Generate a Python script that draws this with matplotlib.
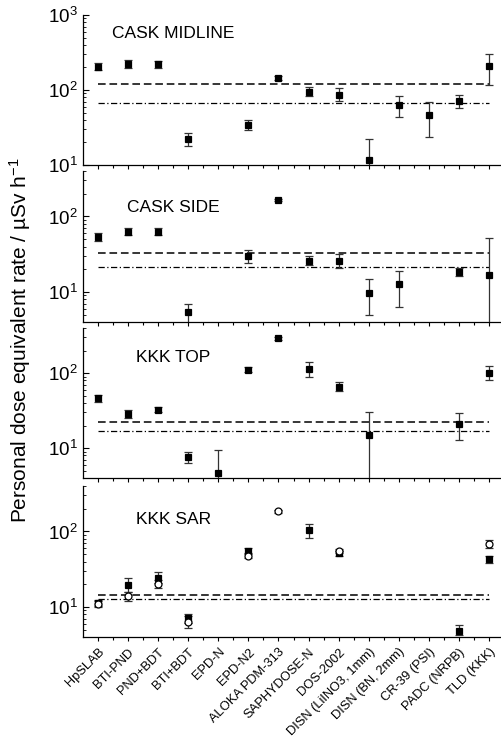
import numpy as np
import matplotlib
matplotlib.use("Agg")
import matplotlib.pyplot as plt

plt.rcParams["font.family"] = ["Liberation Sans", "DejaVu Sans"]
plt.rcParams["mathtext.default"] = "regular"

nan = np.nan

categories = ["HpSLAB", "BTI-PND", "PND+BDT", "BTI+BDT", "EPD-N", "EPD-N2",
              "ALOKA PDM-313", "SAPHYDOSE-N", "DOS-2002", "DISN (LiINO3, 1mm)",
              "DISN (BN, 2mm)", "CR-39 (PSI)", "PADC (NRPB)", "TLD (KKK)"]

# CASK MIDLINE
mid_val = [205, 220, 220, 22.5, nan, 34, 145, 95, 87, 11.8, 63, 47, 72, 210]
mid_lo = [185, 195, 198, 18, nan, 29, 137, 84, 72, 5, 44, 23.5, 57, 115]
mid_hi = [230, 248, 245, 27, nan, 40, 155, 110, 105, 22, 84, 70, 85, 300]
mid_ref = [121, 67]

# CASK SIDE
side_val = [53, 63, 63, 5.4, nan, 30, 165, 26, 26, 9.8, 12.7, nan, 18.5, 17]
side_lo = [47, 57, 57, 3, nan, 24, 158, 22.5, 21, 4.9, 6.3, nan, 16.5, 3]
side_hi = [60, 70, 70, 7, nan, 36, 172, 30, 32, 14.8, 19, nan, 20.5, 52]
side_ref = [33, 21.5]

# KKK TOP
top_val = [46, 28.5, 32.6, 7.6, 4.66, 111, 290, 115, 66, 15, nan, nan, 21, 100]
top_lo = [41, 25.5, 30, 6.3, 3, 104, 280, 90, 58, 3, nan, nan, 12.9, 81]
top_hi = [51, 32, 35.5, 8.9, 9.5, 119, 300, 141, 76, 30, nan, nan, 29, 123]
top_ref = [22.5, 17]

# KKK SAR (filled squares and open circles)
sar_val = [11.4, 19.5, 24.4, 7.1, nan, 55, nan, 105, 51.5, nan, nan, nan, 4.8, 43]
sar_lo = [10.4, 16, 21, 6.2, nan, 50, nan, 81, 48, nan, nan, nan, 4.2, 38]
sar_hi = [12.5, 24.4, 28.7, 8.0, nan, 60, nan, 126, 55, nan, nan, nan, 5.8, 48]
sar2_val = [11, 13.9, 20.1, 6.3, nan, 48, 185, nan, 55.8, nan, nan, nan, nan, 68]
sar2_lo = [10, 12, 18, 5.2, nan, 45, 178, nan, 52, nan, nan, nan, nan, 61]
sar2_hi = [12, 16, 22.5, 7.5, nan, 52, 192, nan, 59, nan, nan, nan, nan, 78]
sar_ref = [14.3, 12.8]

titles = ["CASK MIDLINE", "CASK SIDE", "KKK TOP", "KKK SAR"]
title_pos = [(0.069, 0.88), (0.105, 0.755), (0.127, 0.80), (0.127, 0.78)]
ylims = [(10, 1000), (4, 400), (4, 400), (4, 400)]

W, H = 501, 741
fig = plt.figure(figsize=(W / 100, H / 100), dpi=100)
# panel top/bottom in pixels
panels_px = [(15, 165), (171, 322), (328, 478), (486, 637)]
left_px = 83

x = np.arange(len(categories))


def draw_series(ax, val, lo, hi, marker, face):
    val = np.array(val, float)
    err = np.vstack([val - np.array(lo, float), np.array(hi, float) - val])
    ax.errorbar(x, val, yerr=err, fmt=marker, mfc=face, mec="black",
                ms=5, mew=0.9, ecolor="#333333", elinewidth=0.9,
                capsize=3, capthick=0.9, zorder=3)


data = [
    [(mid_val, mid_lo, mid_hi, "s", "black")],
    [(side_val, side_lo, side_hi, "s", "black")],
    [(top_val, top_lo, top_hi, "s", "black")],
    [(sar_val, sar_lo, sar_hi, "s", "black"),
     (sar2_val, sar2_lo, sar2_hi, "o", "white")],
]
refs = [mid_ref, side_ref, top_ref, sar_ref]

for i, (t, b) in enumerate(panels_px):
    ax = fig.add_axes([left_px / W, 1 - b / H, 1 - left_px / W, (b - t) / H])
    ax.set_yscale("log")
    ax.set_ylim(*ylims[i])
    ax.set_xlim(-0.5, 13.4)
    for s in ("top", "right"):
        ax.spines[s].set_visible(False)
    ax.spines["left"].set_linewidth(0.9)
    ax.spines["bottom"].set_linewidth(0.9)

    ax.hlines(refs[i][0], 0, 13, colors="black", linestyles=(0, (5, 2.5)), lw=1.1, zorder=2)
    ax.hlines(refs[i][1], 0, 13, colors="black", linestyles=(0, (5, 2, 1, 2)), lw=0.9, zorder=2)

    for series in data[i]:
        draw_series(ax, *series)

    ax.text(title_pos[i][0], title_pos[i][1], titles[i], fontsize=12.5,
            ha="left", va="center", transform=ax.transAxes)
    ax.set_xticks(x)
    ax.set_xticks(x[:-1] + 0.5, minor=True)
    ax.tick_params(axis="x", which="major", direction="out", length=3, width=0.8)
    ax.tick_params(axis="x", which="minor", direction="out", length=2, width=0.8)
    ax.tick_params(axis="y", which="major", direction="in", length=4, width=0.8, labelsize=13.5)
    ax.tick_params(axis="y", which="minor", direction="in", length=2, width=0.6)
    if i < 3:
        ax.set_xticklabels([])
    else:
        ax.set_xticklabels(categories, rotation=45, ha="right",
                           rotation_mode="anchor", fontsize=9.3)

fig.text(20 / W, 1 - 340 / H, "Personal dose equivalent rate / \u00b5Sv h$^{-1}$",
         rotation=90, ha="center", va="center", fontsize=15)

fig.savefig("out.png", dpi=100)
